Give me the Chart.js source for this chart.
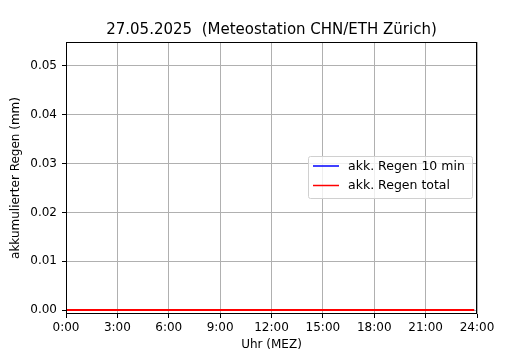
<!DOCTYPE html>
<html><head><meta charset="utf-8">
<script src="https://cdn.jsdelivr.net/npm/chart.js@4.4.1/dist/chart.umd.min.js"></script>
<style>html,body{margin:0;padding:0;background:#fff}#wrap{width:530px;height:350px}</style>
</head><body><div id="wrap"><canvas id="c" width="530" height="350"></canvas></div>
<script>
const titleText = "27.05.2025  (Meteostation CHN/ETH Zürich)";
const xTitle = "Uhr (MEZ)";
const yTitle = "akkumulierter Regen (mm)";
const seriesNames = ["akk. Regen 10 min", "akk. Regen total"];
const seriesColors = ["#0000ff", "#ff0000"];
// time in minutes after midnight (10-minute steps)
const minutes = [0,10,20,30,40,50,60,70,80,90,100,110,120,130,140,150,160,170,180,190,200,210,220,230,240,250,260,270,280,290,300,310,320,330,340,350,360,370,380,390,400,410,420,430,440,450,460,470,480,490,500,510,520,530,540,550,560,570,580,590,600,610,620,630,640,650,660,670,680,690,700,710,720,730,740,750,760,770,780,790,800,810,820,830,840,850,860,870,880,890,900,910,920,930,940,950,960,970,980,990,1000,1010,1020,1030,1040,1050,1060,1070,1080,1090,1100,1110,1120,1130,1140,1150,1160,1170,1180,1190,1200,1210,1220,1230,1240,1250,1260,1270,1280,1290,1300,1310,1320,1330,1340,1350,1360,1370,1380,1390,1400,1410,1420,1430];
const rain10 = [0,0,0,0,0,0,0,0,0,0,0,0,0,0,0,0,0,0,0,0,0,0,0,0,0,0,0,0,0,0,0,0,0,0,0,0,0,0,0,0,0,0,0,0,0,0,0,0,0,0,0,0,0,0,0,0,0,0,0,0,0,0,0,0,0,0,0,0,0,0,0,0,0,0,0,0,0,0,0,0,0,0,0,0,0,0,0,0,0,0,0,0,0,0,0,0,0,0,0,0,0,0,0,0,0,0,0,0,0,0,0,0,0,0,0,0,0,0,0,0,0,0,0,0,0,0,0,0,0,0,0,0,0,0,0,0,0,0,0,0,0,0,0,0];
const rainTotal = [0,0,0,0,0,0,0,0,0,0,0,0,0,0,0,0,0,0,0,0,0,0,0,0,0,0,0,0,0,0,0,0,0,0,0,0,0,0,0,0,0,0,0,0,0,0,0,0,0,0,0,0,0,0,0,0,0,0,0,0,0,0,0,0,0,0,0,0,0,0,0,0,0,0,0,0,0,0,0,0,0,0,0,0,0,0,0,0,0,0,0,0,0,0,0,0,0,0,0,0,0,0,0,0,0,0,0,0,0,0,0,0,0,0,0,0,0,0,0,0,0,0,0,0,0,0,0,0,0,0,0,0,0,0,0,0,0,0,0,0,0,0,0,0];
const xTicks = [0,180,360,540,720,900,1080,1260,1440];
const xTickLabels = ["0:00","3:00","6:00","9:00","12:00","15:00","18:00","21:00","24:00"];
const yTicks = [0,0.01,0.02,0.03,0.04,0.05];
const yTickLabels = ["0.00","0.01","0.02","0.03","0.04","0.05"];

const FONT = "'DejaVu Sans', sans-serif";

const titlePlugin = {
  id: 'mplTitle',
  afterDraw(chart) {
    const ctx = chart.ctx, a = chart.chartArea;
    ctx.save();
    ctx.fillStyle = '#000';
    ctx.font = "15px " + FONT;
    ctx.textAlign = 'center';
    ctx.textBaseline = 'alphabetic';
    ctx.fillText(titleText, (a.left + a.right) / 2, 34);
    // frame
    ctx.strokeStyle = '#000';
    ctx.lineWidth = 1;
    ctx.strokeRect(Math.round(a.left) + 0.5, Math.round(a.top) + 0.5, Math.round(a.right - a.left) - 1, Math.round(a.bottom - a.top) - 1);
    // legend
    const lx = 308, ly = 156, lw = 164, lh = 42;
    ctx.fillStyle = 'rgba(255,255,255,0.8)';
    ctx.strokeStyle = '#d0d0d0';
    ctx.beginPath();
    if (ctx.roundRect) ctx.roundRect(lx + 0.5, ly + 0.5, lw, lh, 2); else ctx.rect(lx + 0.5, ly + 0.5, lw, lh);
    ctx.fill(); ctx.stroke();
    ctx.font = "12.5px " + FONT;
    ctx.textAlign = 'left';
    ctx.textBaseline = 'middle';
    chart.data.datasets.forEach((ds, i) => {
      const yy = ly + 10 + i * 19.5;
      ctx.strokeStyle = ds.borderColor;
      ctx.lineWidth = 1.5;
      ctx.beginPath(); ctx.moveTo(lx + 5, yy); ctx.lineTo(lx + 31, yy); ctx.stroke();
      ctx.fillStyle = '#000';
      ctx.fillText(ds.label, lx + 40, yy + 0.5);
    });
    ctx.restore();
  }
};

new Chart(document.getElementById('c'), {
  type: 'line',
  data: {
    datasets: [
      { label: seriesNames[0], data: minutes.map((m, i) => ({x: m, y: rain10[i]})), borderColor: seriesColors[0], borderWidth: 1.5, pointRadius: 0, fill: false, tension: 0, order: 2 },
      { label: seriesNames[1], data: minutes.map((m, i) => ({x: m, y: rainTotal[i]})), borderColor: seriesColors[1], borderWidth: 2, pointRadius: 0, fill: false, tension: 0, order: 1 }
    ]
  },
  options: {
    responsive: false,
    animation: false,
    devicePixelRatio: 1,
    layout: { padding: { left: 9, right: 53, top: 42, bottom: 0 } },
    plugins: { legend: { display: false }, title: { display: false }, tooltip: { enabled: false } },
    scales: {
      x: {
        type: 'linear', min: 0, max: 1440,
        afterBuildTicks(s) { s.ticks = xTicks.map(v => ({ value: v })); },
        afterFit(s) { s.height = 36; },
        ticks: { callback: (v) => { const i = xTicks.indexOf(v); return i >= 0 ? xTickLabels[i] : ''; }, color: '#000', font: { family: FONT, size: 12 }, padding: 3, maxRotation: 0, autoSkip: false },
        grid: { color: '#b0b0b0', lineWidth: 1, tickColor: '#000', tickLength: 4, drawTicks: true },
        border: { display: false },
        title: { display: true, text: xTitle, color: '#000', font: { family: FONT, size: 12 }, padding: { top: 0, bottom: -2 } }
      },
      y: {
        type: 'linear', min: -0.0008, max: 0.0549,
        afterBuildTicks(s) { s.ticks = yTicks.map(v => ({ value: v })); },
        afterFit(s) { s.width = 57; },
        ticks: { callback: (v) => { const i = yTicks.findIndex(t => Math.abs(t - v) < 1e-9); return i >= 0 ? yTickLabels[i] : ''; }, color: '#000', font: { family: FONT, size: 12 }, padding: 5 },
        grid: { color: '#b0b0b0', lineWidth: 1, tickColor: '#000', tickLength: 4, drawTicks: true },
        border: { display: false },
        title: { display: true, text: yTitle, color: '#000', font: { family: FONT, size: 12 }, padding: { top: 0, bottom: 0 } }
      }
    }
  },
  plugins: [titlePlugin]
});
</script>
</body></html>
